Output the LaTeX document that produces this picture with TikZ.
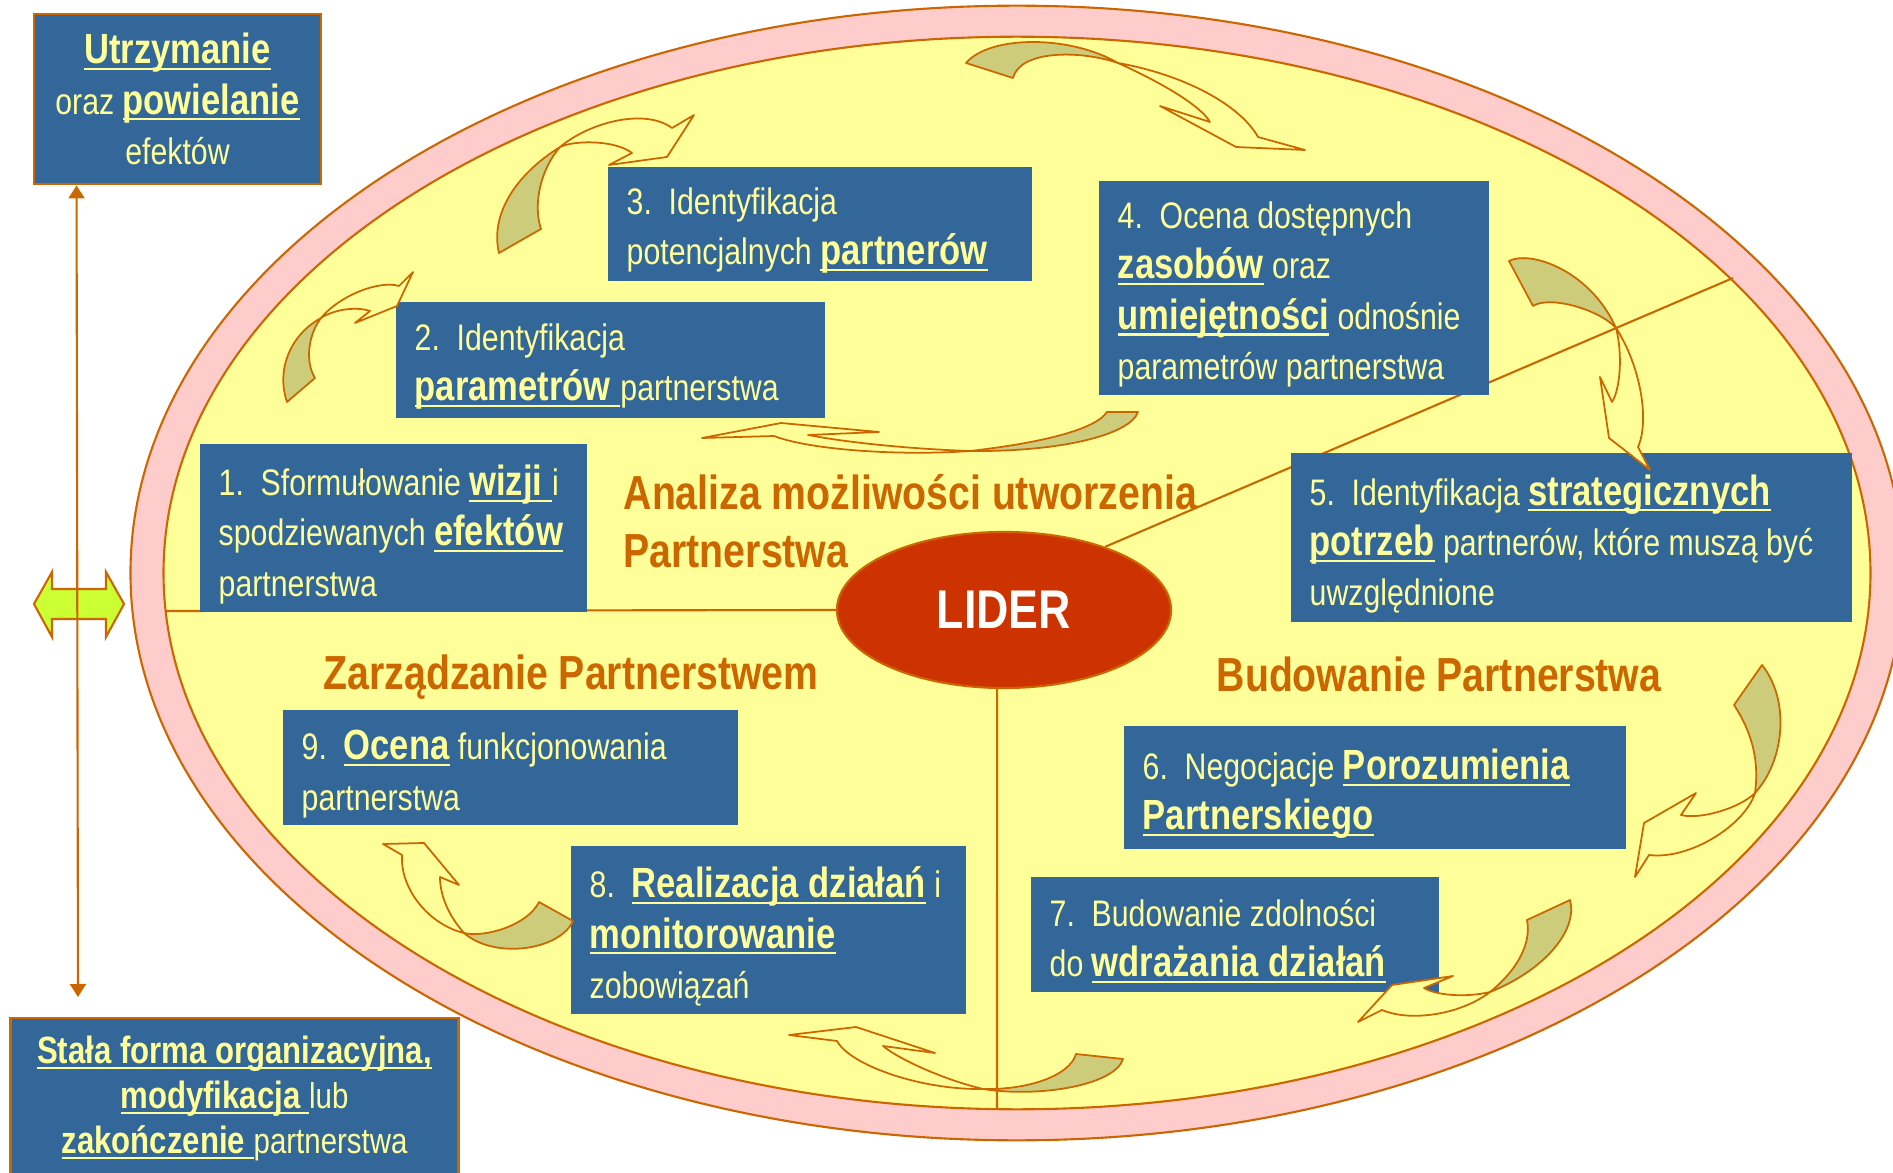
\documentclass[tikz,border=0pt]{standalone}
\usepackage{fontspec}
\setmainfont[FakeStretch=0.82]{Liberation Sans}
\usetikzlibrary{shapes.geometric,arrows.meta}

\definecolor{boxblue}{HTML}{336699}
\definecolor{paleyellow}{HTML}{FFFF99}
\definecolor{ringpink}{HTML}{FFCCCC}
\definecolor{rimorange}{HTML}{CC6600}
\definecolor{backolive}{HTML}{CCCC7A}
\definecolor{liderred}{HTML}{CC3300}
\definecolor{arrowlime}{HTML}{CCFF33}

\newcommand{\ulbox}[1]{\setbox0\hbox{#1}\rlap{\rule[-1.8pt]{\wd0}{0.6pt}}\box0}
\newcommand{\bw}[2][12]{{\fontsize{#1}{14.3}\selectfont\bfseries\ulbox{#2}}}
\newcommand{\stepno}[1]{\makebox[4.2mm][l]{#1.}}

\begin{document}
\begin{tikzpicture}[x=0.01cm, y=-0.01cm,
		stagetext/.style={anchor=west, align=left, inner sep=0pt, yshift=-0.65mm, text=paleyellow, font=\fontsize{10.5}{14.3}\selectfont},
		framebox/.style={fill=boxblue, draw=rimorange, line width=0.8pt, align=center, inner sep=0pt, text=paleyellow, font=\fontsize{10.5}{14.3}\selectfont},
		phase/.style={inner sep=0pt, text=rimorange, font=\fontsize{13.6}{16.5}\selectfont\bfseries},
		link/.style={draw=rimorange, line width=0.6pt},
		ribbon/.style={fill=paleyellow, draw=rimorange, line width=0.5pt, line join=round},
		ribbonback/.style={fill=backolive, draw=rimorange, line width=0.5pt, line join=round}]
	\useasboundingbox (0,0) rectangle (1893,1173);
	\filldraw[fill=ringpink, draw=rimorange, line width=0.6pt] (1017,573) ellipse [x radius=8.86cm, y radius=5.67cm];
	\filldraw[fill=paleyellow, draw=rimorange, line width=0.6pt] (1017,573) ellipse [x radius=8.53cm, y radius=5.36cm];

	\node[ellipse, fill=liderred, draw=rimorange, line width=0.6pt, minimum width=3.34cm, minimum height=1.56cm, inner sep=0pt, text=white, font=\fontsize{15.5}{18}\selectfont\bfseries] (lider) at (1004,610) {LIDER};
	\coordinate (rimW) at (166,611);
	\coordinate (rimS) at (997,1108);
	\coordinate (rimNE) at (1733,278);
	\draw[link] (lider.west) -- (rimW);
	\draw[link] (lider.265) -- (rimS);
	\draw[link] (lider.32) -- (rimNE);

	\fill[boxblue] (200,444) rectangle (587,612);
	\node[stagetext] (krok1) at (218,528) {\stepno{1}Sformułowanie \bw{wizji }i\\spodziewanych \bw{efektów}\\partnerstwa};
	\fill[boxblue] (396,302) rectangle (825,418);
	\node[stagetext] (krok2) at (414,360) {\stepno{2}Identyfikacja\\\bw{parametrów }partnerstwa};
	\fill[boxblue] (608,167) rectangle (1032,281);
	\node[stagetext] (krok3) at (626,224) {\stepno{3}Identyfikacja\\potencjalnych \bw{partnerów}};
	\fill[boxblue] (1099,181) rectangle (1489,395);
	\node[stagetext] (krok4) at (1117,288) {\stepno{4}Ocena dostępnych\\\bw{zasobów} oraz\\\bw{umiejętności} odnośnie\\parametrów partnerstwa};
	\fill[boxblue] (1291,453) rectangle (1852,622);
	\node[stagetext] (krok5) at (1309,537.5) {\stepno{5}Identyfikacja \bw{strategicznych}\\\bw{potrzeb} partnerów, które muszą być\\uwzględnione};
	\fill[boxblue] (1124,726) rectangle (1626,849);
	\node[stagetext] (krok6) at (1142,787.5) {\stepno{6}Negocjacje \bw{Porozumienia}\\\bw{Partnerskiego}};
	\fill[boxblue] (1031,877) rectangle (1439,992);
	\node[stagetext] (krok7) at (1049,934.5) {\stepno{7}Budowanie zdolności\\do \bw{wdrażania działań}};
	\fill[boxblue] (571,846) rectangle (966,1014);
	\node[stagetext] (krok8) at (589,930) {\stepno{8}\bw{Realizacja działań} i\\\bw{monitorowanie}\\zobowiązań};
	\fill[boxblue] (283,710) rectangle (738,825);
	\node[stagetext] (krok9) at (301,767.5) {\stepno{9}\bw{Ocena} funkcjonowania\\partnerstwa};

	\node[phase, anchor=west, align=left] (analiza) at (623,521) {Analiza możliwości utworzenia\\Partnerstwa};
	\node[phase, anchor=base] (zarzadzanie) at (571,689) {Zarządzanie Partnerstwem};
	\node[phase, anchor=base] (budowanie) at (1439,691) {Budowanie Partnerstwa};

	\draw[ribbon] (321,318) .. controls (340,295) and (380,280) .. (399,286) -- (413,272) -- (397,306) -- (355,323) -- (370,311) .. controls (355,306) and (333,310) .. (321,318) -- cycle;
	\draw[ribbonback] (287,402) .. controls (276,370) and (290,335) .. (321,318) .. controls (308,335) and (305,362) .. (315,378) -- cycle;
	\draw[ribbon] (560,147) .. controls (590,122) and (645,108) .. (672,128) -- (694,115) -- (667,157) -- (609,165) -- (632,153) .. controls (615,140) and (575,140) .. (560,147) -- cycle;
	\draw[ribbonback] (499,253) .. controls (490,215) and (515,175) .. (560,147) .. controls (540,170) and (533,205) .. (541,229) -- cycle;
	\draw[ribbon] (1118,63) .. controls (1160,82) and (1200,105) .. (1210,122) -- (1160,106) -- (1236,147) -- (1305,150) -- (1258,137) .. controls (1240,105) and (1185,75) .. (1118,63) -- cycle;
	\draw[ribbonback] (966,63) .. controls (990,35) and (1070,35) .. (1118,63) .. controls (1080,50) and (1020,50) .. (1013,78) -- cycle;
	\draw[ribbon] (1616,328) .. controls (1623,355) and (1620,390) .. (1612,402) -- (1600,377) -- (1609,438) -- (1650,470) -- (1638,447) .. controls (1650,420) and (1640,365) .. (1616,328) -- cycle;
	\draw[ribbonback] (1509,261) .. controls (1530,250) and (1590,270) .. (1616,328) .. controls (1600,310) and (1550,295) .. (1533,306) -- cycle;
	\draw[ribbon] (970,451) .. controls (912,449) and (850,443) .. (808,435) -- (879,432) -- (781,423) -- (702,438) -- (774,436) .. controls (810,450) and (900,456) .. (970,451) -- cycle;
	\draw[ribbonback] (1138,412) .. controls (1130,435) and (1060,452) .. (970,451) .. controls (1040,443) and (1095,430) .. (1107,412) -- cycle;
	\draw[ribbon] (1755,793) .. controls (1740,808) and (1700,820) .. (1681,815) -- (1696,793) -- (1644,823) -- (1635,877) -- (1649,855) .. controls (1690,860) and (1745,825) .. (1755,793) -- cycle;
	\draw[ribbonback] (1762,665) .. controls (1790,700) and (1785,760) .. (1755,793) .. controls (1758,770) and (1757,740) .. (1734,705) -- cycle;
	\draw[ribbon] (1490,992) .. controls (1465,998) and (1435,995) .. (1424,988) -- (1453,976) -- (1392,985) -- (1358,1022) -- (1382,1010) .. controls (1410,1022) and (1460,1015) .. (1490,992) -- cycle;
	\draw[ribbonback] (1570,900) .. controls (1578,930) and (1545,970) .. (1490,992) .. controls (1515,972) and (1532,945) .. (1527,920) -- cycle;
	\draw[ribbon] (983,1089) .. controls (945,1080) and (900,1060) .. (883,1046) -- (935,1053) -- (856,1027) -- (789,1035) -- (837,1041) .. controls (850,1065) and (920,1090) .. (983,1089) -- cycle;
	\draw[ribbonback] (1123,1059) .. controls (1115,1085) and (1040,1098) .. (983,1089) .. controls (1030,1090) and (1070,1075) .. (1076,1054) -- cycle;
	\draw[ribbon] (464,933) .. controls (448,915) and (440,895) .. (440,877) -- (459,885) -- (424,843) -- (383,844) -- (402,855) .. controls (400,890) and (430,925) .. (464,933) -- cycle;
	\draw[ribbonback] (573,921) .. controls (560,950) and (495,960) .. (464,933) .. controls (485,938) and (528,925) .. (539,902) -- cycle;

	\node[framebox, minimum width=2.87cm, minimum height=1.70cm] (utrzym) at (177.5,99) {\bw{Utrzymanie}\\oraz \bw{powielanie}\\efektów};
	\node[framebox, minimum width=4.47cm, minimum height=1.60cm, font=\fontsize{10.2}{12.8}\selectfont] (stala) at (234.5,1098) {\bw[10.8]{Stała forma organizacyjna,}\\\bw[10.8]{modyfikacja }lub\\\bw[10.8]{zakończenie }partnerstwa};
	\coordinate (vbot) at (78,997);
	\filldraw[fill=arrowlime, draw=rimorange, line width=0.6pt] (34,604) -- (52,572) -- (52,589) -- (106,589) -- (106,572) -- (124,604) -- (106,637) -- (106,619) -- (52,619) -- (52,637) -- cycle;
	\draw[link, {Triangle[length=1.3mm,width=1.6mm]}-{Triangle[length=1.3mm,width=1.6mm]}] ([xshift=4.4mm]utrzym.south west) -- (vbot);
\end{tikzpicture}
\end{document}
